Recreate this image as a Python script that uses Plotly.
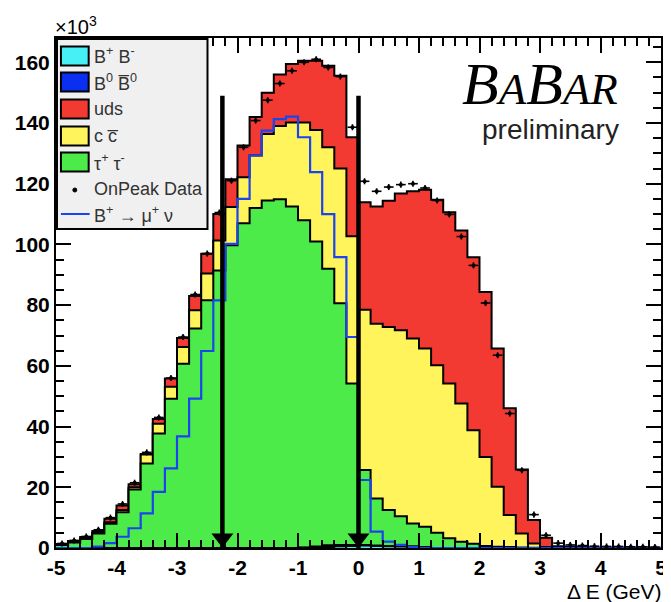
import numpy as np
import plotly.graph_objects as go

# ---------------- data (values in units of 10^3 events per 0.2 GeV bin) ----------------
bin_edges = np.round(np.linspace(-5.0, 5.0, 51), 3)
bin_centers = np.round((bin_edges[:-1] + bin_edges[1:]) / 2, 3)

bpbm = [0]*20 + [0.1, 0.2, 0.3, 0.6, 0.7, 0.8, 0.7, 0.6, 0.5, 0.5, 0.3] + [0]*19
b0b0 = [0]*20 + [0.1, 0.3, 0.6, 0.4, 0.3, 0.2, 0.1] + [0]*23
tautau = [1.0, 1.8, 3.0, 4.8, 8.0, 11.8, 19.3, 27.8, 37.7, 49.2,
          60.7, 72.3, 81.6, 91.4, 99.7, 107.0, 112.0, 114.5, 114.9, 112.5,
          107.8, 100.5, 91.1, 79.6, 53.2, 24.7, 15.5, 11.9, 10.0, 7.6,
          6.7, 5.0, 3.2, 2.1, 1.4, 0.7, 0.4, 0.3, 0.2, 0.1,
          0, 0, 0, 0, 0, 0, 0, 0, 0, 0]
ccbar = [0.1, 0.1, 0.2, 0.2, 0.5, 0.7, 0.7, 3.0, 3.2, 3.9,
         5.5, 6.0, 8.8, 9.9, 12.6, 15.1, 17.3, 21.9, 24.1, 27.7,
         32.2, 36.7, 40.0, 44.4, 48.5, 52.8, 57.6, 60.3, 61.2, 60.9,
         58.7, 55.2, 51.0, 45.5, 37.4, 29.3, 19.8, 10.6, 4.6, 1.4,
         0.3, 0, 0, 0, 0, 0, 0, 0, 0, 0]
uds = [0.2, 0.3, 0.4, 0.6, 1.1, 1.5, 1.0, 0.2, 1.6, 2.7,
       3.0, 4.7, 6.5, 8.7, 9.2, 10.5, 12.7, 13.6, 17.0, 19.2,
       20.3, 22.8, 26.9, 30.6, 32.6, 35.4, 38.6, 41.6, 45.1, 48.5,
       52.3, 54.5, 56.4, 57.0, 57.0, 54.3, 45.5, 35.1, 21.1, 7.7,
       3.1, 0.6, 0.4, 0.3, 0.2, 0.2, 0.1, 0.1, 0.1, 0.1]
onpeak_data = [1.5, 2.5, 3.8, 6.0, 10.0, 14.5, 21.5, 31.5, 43.0, 56.0,
               69.5, 83.5, 97.0, 110.5, 121.0, 132.0, 140.8, 147.5, 153.0, 157.2,
               160.0, 161.0, 158.3, 155.3, 138.6, 120.8, 117.5, 118.9, 119.7, 120.0,
               118.6, 114.5, 109.9, 102.6, 93.1, 80.7, 63.5, 44.3, 25.6, 11.0,
               4.2, 1.6, 1.0, 0.8, 0.6, 0.5, 0.5, 0.4, 0.4, 0.3]
signal_mununu = [0, 0, 0, 0.5, 1.6, 3.7, 6.5, 11.4, 18.5, 26.2,
                 36.8, 49.2, 64.9, 81.6, 100.2, 115.0, 129.3, 137.5, 141.3, 142.1,
                 135.3, 123.8, 110.0, 95.8, 69.5, 22.4, 5.4, 2.1, 1.0, 0.3] + [0]*20

cut_values = [-2.25, 0.0]
cut_top = 149

x_tick_vals = [-5, -4, -3, -2, -1, 0, 1, 2, 3, 4, 5]
x_tick_text = ["-5", "-4", "-3", "-2", "-1", "0", "1", "2", "3", "4", "5"]
y_tick_vals = [0, 20, 40, 60, 80, 100, 120, 140, 160]

legend_labels = ["B<sup>+</sup> B<sup>-</sup>", "B<sup>0</sup> B\u0305<sup>0</sup>", "uds",
                 "c c\u0305", "\u03c4<sup>+</sup> \u03c4<sup>-</sup>"]

# ---------------- styles ----------------
C_BPBM = "#46f0f4"
C_B0B0 = "#0a2ff0"
C_UDS = "#f23a33"
C_CC = "#fff45c"
C_TAU = "#4ceb4a"
C_SIG = "#1a44ee"
legend_colors = [C_BPBM, C_B0B0, C_UDS, C_CC, C_TAU]

c1 = np.array(bpbm, float)
c2 = c1 + np.array(b0b0, float)
c3 = c2 + np.array(tautau, float)
c4 = c3 + np.array(ccbar, float)
c5 = c4 + np.array(uds, float)

def step_y(v):
    v = list(np.round(v, 3))
    return v + [v[-1]]

fig = go.Figure()
for cum, col in [(c5, C_UDS), (c4, C_CC), (c3, C_TAU), (c2, C_B0B0), (c1, C_BPBM)]:
    fig.add_trace(go.Scatter(x=bin_edges, y=step_y(cum), mode="lines", line_shape="hv",
                             fill="tozeroy", fillcolor=col,
                             line=dict(color="black", width=2), hoverinfo="skip"))

fig.add_trace(go.Scatter(x=bin_edges, y=step_y(signal_mununu), mode="lines", line_shape="hv",
                         line=dict(color=C_SIG, width=2.2)))

fig.add_trace(go.Scatter(x=bin_centers, y=onpeak_data, mode="markers",
                         marker=dict(color="black", size=4),
                         error_x=dict(type="constant", value=0.08, color="black", thickness=1.6, width=0),
                         error_y=dict(type="constant", value=1.0, color="black", thickness=1.6, width=0)))

for c in cut_values:
    fig.add_trace(go.Scatter(x=[c, c], y=[0, cut_top], mode="lines",
                             line=dict(color="black", width=4.5)))
fig.add_trace(go.Scatter(x=cut_values, y=[3.2]*len(cut_values), mode="markers",
                         marker=dict(symbol="triangle-down", size=19, color="black")))

# ---------------- layout helpers ----------------
# The page body has an 8px margin, so the figure is drawn 8px smaller and
# everything below is expressed in reference-image pixels.
BODY = 8
W, H = 671 - BODY, 602 - BODY
PL, PR, PT, PB = 56, 667, 38, 548   # plot area in reference pixels
def fx(p):
    return (p - PL) / (PR - PL)
def fy(p):
    return (PB - p) / (PB - PT)

shapes = []
annotations = []

# legend box
shapes.append(dict(type="rect", xref="paper", yref="paper", x0=fx(57), x1=fx(209),
                   y0=fy(229), y1=fy(39), fillcolor="#f0f0f0", line=dict(color="black", width=2)))
entry_y = [56, 82, 109, 136, 162]
for yy, col, lab in zip(entry_y, legend_colors, legend_labels):
    shapes.append(dict(type="rect", xref="paper", yref="paper", x0=fx(61), x1=fx(89),
                       y0=fy(yy + 9.5), y1=fy(yy - 9.5), fillcolor=col,
                       line=dict(color="black", width=2)))
    annotations.append(dict(xref="paper", yref="paper", x=fx(92), y=fy(yy), text=lab,
                            showarrow=False, xanchor="left", yanchor="middle",
                            font=dict(family="Liberation Sans", size=18, color="#333333")))
shapes.append(dict(type="circle", xref="paper", yref="paper", x0=fx(73), x1=fx(77),
                   y0=fy(192), y1=fy(188), fillcolor="black", line=dict(color="black", width=1)))
annotations.append(dict(xref="paper", yref="paper", x=fx(92), y=fy(189), text="OnPeak Data",
                        showarrow=False, xanchor="left", yanchor="middle",
                        font=dict(family="Liberation Sans", size=18, color="#333333")))
shapes.append(dict(type="line", xref="paper", yref="paper", x0=fx(61), x1=fx(90),
                   y0=fy(214), y1=fy(214), line=dict(color=C_SIG, width=2)))
annotations.append(dict(xref="paper", yref="paper", x=fx(92), y=fy(214),
                        text="B<sup>+</sup> \u2192 \u03bc<sup>+</sup> \u03bd",
                        showarrow=False, xanchor="left", yanchor="middle",
                        font=dict(family="Liberation Sans", size=18, color="#333333")))

# exponent label
annotations.append(dict(xref="paper", yref="paper", x=fx(53), y=fy(25), text="\u00d710<sup>3</sup>",
                        showarrow=False, xanchor="left", yanchor="middle",
                        font=dict(family="Liberation Sans", size=20, color="black")))
# BaBar logo
annotations.append(dict(xref="paper", yref="paper", x=fx(545), y=fy(84),
                        text="<i><span style='font-size:60px'>B</span><span style='font-size:45px'>A</span>"
                             "<span style='font-size:60px'>B</span><span style='font-size:45px'>AR</span></i>",
                        showarrow=False, xanchor="center", yanchor="middle",
                        font=dict(family="Liberation Serif", size=60, color="black")))
annotations.append(dict(xref="paper", yref="paper", x=fx(555), y=fy(129), text="preliminary",
                        showarrow=False, xanchor="center", yanchor="middle",
                        font=dict(family="Liberation Sans", size=28, color="#222222")))
# x-axis title
annotations.append(dict(xref="paper", yref="paper", x=fx(670), y=fy(591), text="\u0394 E (GeV)",
                        showarrow=False, xanchor="right", yanchor="middle",
                        font=dict(family="Liberation Sans", size=21, color="black")))

tickfont = dict(family="Liberation Sans", size=21, color="black", weight="bold")
fig.update_layout(
    width=W, height=H,
    margin=dict(l=PL - BODY, r=W - (PR - BODY), t=PT - BODY, b=H - (PB - BODY), pad=0),
    paper_bgcolor="white", plot_bgcolor="white",
    showlegend=False,
    shapes=shapes, annotations=annotations,
    xaxis=dict(range=[-5, 5], tickvals=x_tick_vals, ticktext=x_tick_text, ticks="inside",
               ticklen=15, tickwidth=1.5, tickcolor="black", showline=True, linewidth=2,
               linecolor="black", mirror="ticks", showgrid=False, zeroline=False,
               tickfont=tickfont, ticklabeloverflow="allow",
               minor=dict(dtick=0.2, ticks="inside", ticklen=8, tickwidth=1.5, tickcolor="black",
                          showgrid=False)),
    yaxis=dict(range=[0, 168], tickvals=y_tick_vals, ticks="inside", ticklen=15, tickwidth=1.5,
               tickcolor="black", showline=True, linewidth=2, linecolor="black", mirror="ticks",
               showgrid=False, zeroline=False, tickfont=tickfont,
               minor=dict(dtick=5, ticks="inside", ticklen=8, tickwidth=1.5, tickcolor="black",
                          showgrid=False)),
)

fig.write_html("out.html")
